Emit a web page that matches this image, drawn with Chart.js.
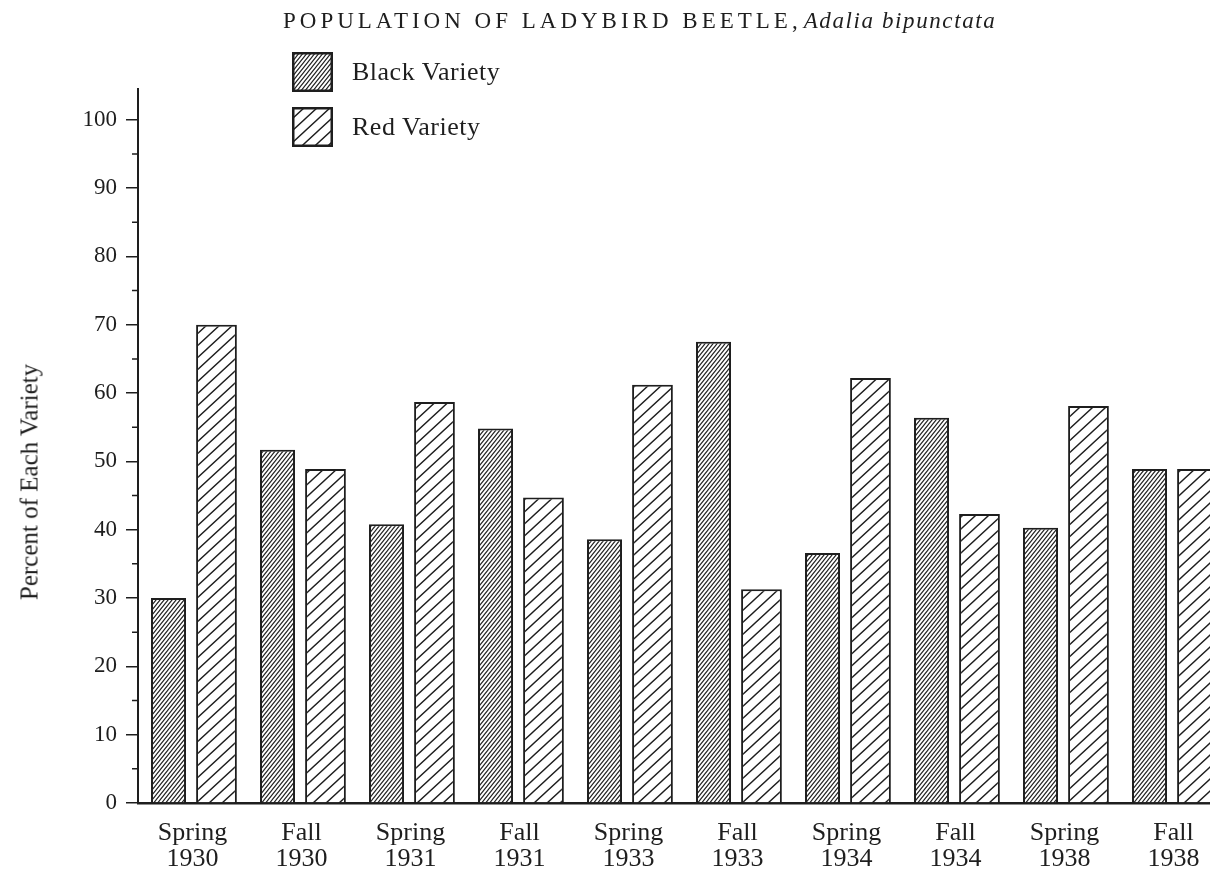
<!DOCTYPE html>
<html>
<head>
<meta charset="utf-8">
<title>Ladybird beetle population</title>
<script src="https://cdn.jsdelivr.net/npm/chart.js@4.4.1/dist/chart.umd.min.js"></script>
<style>
  html, body { margin: 0; padding: 0; background: #fff; overflow: hidden; }
  #wrap { position: relative; width: 1210px; height: 879px; overflow: hidden; color: #1e1e1e; }
  #chart { position: absolute; left: 0; top: 0; }
  .title { position: absolute; left: 283px; top: 9px; font-family: "Liberation Serif", serif; font-size: 23px; line-height: 23px; letter-spacing: 4px; white-space: nowrap; }
  .title i { letter-spacing: 1.6px; margin-left: 2px; }
  .key { position: absolute; left: 292px; height: 40px; }
  .key canvas { position: absolute; left: 0; top: 0; }
  .key span { position: absolute; left: 60px; top: 7px; font-family: "Liberation Serif", serif; font-size: 26px; line-height: 26px; letter-spacing: 0.5px; white-space: nowrap; }
  .ylab { position: absolute; left: 29px; top: 482px; transform: translate(-50%, -50%) rotate(-90deg); font-family: "Liberation Serif", serif; font-size: 25px; line-height: 25px; white-space: nowrap; }
</style>
</head>
<body>
<div id="wrap">
  <canvas id="chart" width="1228" height="879"></canvas>
  <div class="title">POPULATION OF LADYBIRD BEETLE,<i>Adalia bipunctata</i></div>
  <div class="key" style="top:52px"><canvas id="keyBlack" width="41" height="40"></canvas><span>Black Variety</span></div>
  <div class="key" style="top:107px"><canvas id="keyRed" width="41" height="40"></canvas><span>Red Variety</span></div>
  <div class="ylab">Percent of Each Variety</div>
</div>
<script>
const INK = "#1e1e1e";

const seasons = ["Spring", "Fall", "Spring", "Fall", "Spring", "Fall", "Spring", "Fall", "Spring", "Fall"];
const years = ["1930", "1930", "1931", "1931", "1933", "1933", "1934", "1934", "1938", "1938"];
const blackVariety = [30, 51.7, 40.8, 54.8, 38.6, 67.5, 36.6, 56.4, 40.3, 48.9];
const redVariety = [70, 48.9, 58.7, 44.7, 61.2, 31.3, 62.2, 42.3, 58.1, 48.9];
const yTicks = [0, 10, 20, 30, 40, 50, 60, 70, 80, 90, 100];
const yMinor = [5, 15, 25, 35, 45, 55, 65, 75, 85, 95];

// diagonal hatch, lines running lower-left to upper-right
function hatch(w, h, lw) {
  const c = document.createElement("canvas");
  c.width = w;
  c.height = h;
  const g = c.getContext("2d");
  g.fillStyle = "#fff";
  g.fillRect(0, 0, w, h);
  g.strokeStyle = INK;
  g.lineWidth = lw;
  g.beginPath();
  g.moveTo(-w, 2 * h); g.lineTo(2 * w, -h);
  g.moveTo(-w, h); g.lineTo(w, -h);
  g.moveTo(0, 2 * h); g.lineTo(2 * w, 0);
  g.stroke();
  return document.getElementById("chart").getContext("2d").createPattern(c, "repeat");
}

const blackFill = hatch(4, 5, 1.1);
const redFill = hatch(13, 12, 1.4);

function drawKey(id, fill) {
  const el = document.getElementById(id);
  const g = el.getContext("2d");
  g.fillStyle = fill;
  g.fillRect(0, 0, el.width, el.height);
  g.strokeStyle = INK;
  g.lineWidth = 2.5;
  g.strokeRect(1.25, 1.25, el.width - 2.5, el.height - 2.5);
}

const minorTicks = {
  id: "minorTicks",
  afterDraw(chart) {
    const y = chart.scales.y;
    const left = chart.chartArea.left;
    const ctx = chart.ctx;
    ctx.save();
    ctx.strokeStyle = INK;
    ctx.lineWidth = 1.5;
    ctx.beginPath();
    yMinor.forEach(v => {
      const p = y.getPixelForValue(v);
      ctx.moveTo(left - 6, p);
      ctx.lineTo(left, p);
    });
    ctx.stroke();
    ctx.restore();
  }
};

new Chart(document.getElementById("chart"), {
  type: "bar",
  data: {
    labels: seasons.map((s, i) => [s, years[i]]),
    datasets: [
      { label: "Black Variety", data: blackVariety, backgroundColor: blackFill, borderColor: INK, borderWidth: 2, barPercentage: 0.73, categoryPercentage: 0.88 },
      { label: "Red Variety", data: redVariety, backgroundColor: redFill, borderColor: INK, borderWidth: 2, barPercentage: 0.85, categoryPercentage: 0.88 }
    ]
  },
  options: {
    responsive: false,
    animation: false,
    layout: { padding: { top: 89, left: 0, right: 0, bottom: 0 } },
    plugins: { legend: { display: false }, tooltip: { enabled: false } },
    scales: {
      x: {
        grid: { drawOnChartArea: false, drawTicks: false },
        border: { color: INK, width: 2.5 },
        ticks: { color: INK, padding: 17, maxRotation: 0, autoSkip: false, font: { family: "Liberation Serif", size: 26, lineHeight: 1 } },
        afterFit(s) { s.height = 76; s.paddingLeft = 0; s.paddingRight = 0; }
      },
      y: {
        min: 0,
        max: 104.5,
        afterBuildTicks(s) { s.ticks = yTicks.map(v => ({ value: v })); },
        grid: { drawOnChartArea: false, tickLength: 12, color: INK, lineWidth: 1.5 },
        border: { color: INK, width: 2 },
        ticks: { color: INK, padding: 9, font: { family: "Liberation Serif", size: 23 } },
        afterFit(s) { s.width = 138; s.paddingTop = 0; s.paddingBottom = 0; }
      }
    }
  },
  plugins: [minorTicks]
});

drawKey("keyBlack", blackFill);
drawKey("keyRed", redFill);
</script>
</body>
</html>
